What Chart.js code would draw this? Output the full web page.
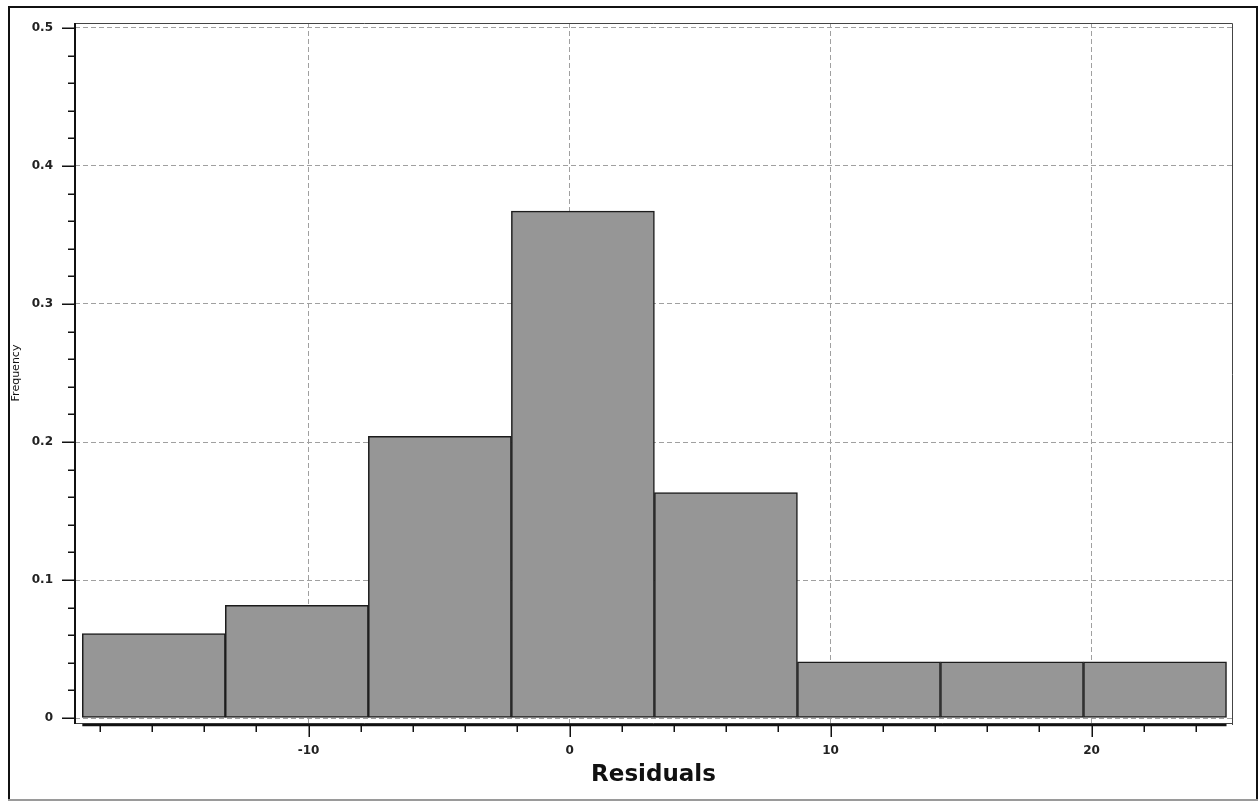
<!DOCTYPE html>
<html><head><meta charset="utf-8">
<script src="https://cdn.jsdelivr.net/npm/chart.js@4.4.0/dist/chart.umd.min.js"></script>
<style>html,body{margin:0;padding:0;background:#fff;}#wrap{width:1259px;height:801px;position:relative;}canvas{display:block;}</style>
</head><body><div id="wrap"><canvas id="c" width="1259" height="801"></canvas></div>
<script>
// ---- data ----
const binEdges = [-18.67, -13.19, -7.71, -2.23, 3.25, 8.73, 14.21, 19.69, 25.17];
const frequencies = [0.0612, 0.0816, 0.2041, 0.3673, 0.1633, 0.0408, 0.0408, 0.0408];
const xMajorTicks = [-10, 0, 10, 20];
const xMinorTicks = [-18, -16, -14, -12, -8, -6, -4, -2, 2, 4, 6, 8, 12, 14, 16, 18, 22, 24];
const yMajorTicks = [0, 0.1, 0.2, 0.3, 0.4, 0.5];
const yMinorTicks = [0.02, 0.04, 0.06, 0.08, 0.12, 0.14, 0.16, 0.18, 0.22, 0.24, 0.26, 0.28,
                     0.32, 0.34, 0.36, 0.38, 0.42, 0.44, 0.46, 0.48];
const xTitle = 'Residuals';
const yTitle = 'Frequency';

const histData = frequencies.map((f, i) => ({ x: (binEdges[i] + binEdges[i + 1]) / 2, y: f }));

const framePlugin = {
  id: 'frame',
  beforeDraw(chart) {
    const ctx = chart.ctx;
    ctx.save(); ctx.fillStyle = '#fff'; ctx.fillRect(0, 0, chart.width, chart.height); ctx.restore();
  },
  afterDraw(chart) {
    const { ctx, chartArea: a, scales: { x, y } } = chart;
    ctx.save();
    // outer border
    ctx.strokeStyle = '#111'; ctx.lineWidth = 2;
    ctx.beginPath(); ctx.moveTo(9, 800); ctx.lineTo(9, 7); ctx.lineTo(1257, 7); ctx.lineTo(1257, 800); ctx.stroke();
    ctx.strokeStyle = '#9a9a9a'; ctx.lineWidth = 2;
    ctx.beginPath(); ctx.moveTo(8, 800); ctx.lineTo(1258, 800); ctx.stroke();
    // plot frame (top/right thin)
    ctx.strokeStyle = '#444'; ctx.lineWidth = 1;
    ctx.beginPath(); ctx.moveTo(a.left, a.top + 0.5); ctx.lineTo(a.right + 0.5, a.top + 0.5); ctx.lineTo(a.right + 0.5, a.bottom + 2); ctx.stroke();
    ctx.beginPath(); ctx.moveTo(a.left, a.bottom + 0.5); ctx.lineTo(a.right, a.bottom + 0.5); ctx.stroke();
    // left axis line
    ctx.strokeStyle = '#111'; ctx.lineWidth = 2;
    ctx.beginPath(); ctx.moveTo(a.left, a.top); ctx.lineTo(a.left, a.bottom + 1); ctx.stroke();
    // bottom axis line across the bins
    const x0 = x.getPixelForValue(binEdges[0]);
    const x1 = x.getPixelForValue(binEdges[binEdges.length - 1]);
    ctx.lineWidth = 2.5;
    ctx.beginPath(); ctx.moveTo(x0, a.bottom + 2); ctx.lineTo(x1, a.bottom + 2); ctx.stroke();
    // x ticks
    ctx.lineWidth = 1.5;
    ctx.beginPath();
    xMajorTicks.forEach(v => { const p = Math.round(x.getPixelForValue(v)) + 0.25; ctx.moveTo(p, a.bottom + 2); ctx.lineTo(p, a.bottom + 14); });
    xMinorTicks.forEach(v => { const p = Math.round(x.getPixelForValue(v)) + 0.25; ctx.moveTo(p, a.bottom + 2); ctx.lineTo(p, a.bottom + 9); });
    ctx.stroke();
    // y ticks
    ctx.beginPath();
    yMajorTicks.forEach(v => { const p = Math.round(y.getPixelForValue(v)) + 0.25; ctx.moveTo(a.left - 13, p); ctx.lineTo(a.left, p); });
    yMinorTicks.forEach(v => { const p = Math.round(y.getPixelForValue(v)) + 0.25; ctx.moveTo(a.left - 7, p); ctx.lineTo(a.left, p); });
    ctx.stroke();
    ctx.restore();
  }
};

new Chart(document.getElementById('c'), {
  type: 'bar',
  data: {
    datasets: [{
      label: yTitle,
      data: histData,
      backgroundColor: '#969696',
      borderColor: '#1c1c1c',
      borderWidth: 1.5,
      borderSkipped: false,
      barPercentage: 1,
      categoryPercentage: 1
    }]
  },
  options: {
    responsive: false,
    animation: false,
    devicePixelRatio: 1,
    layout: { padding: { left: 0, top: 23, right: 27, bottom: 0 } },
    plugins: { legend: { display: false }, tooltip: { enabled: false } },
    scales: {
      x: {
        type: 'linear',
        position: 'bottom',
        min: -18.95,
        max: 25.38,
        offset: false,
        afterBuildTicks: s => { s.ticks = xMajorTicks.map(v => ({ value: v })); },
        afterFit: s => { s.height = 78; },
        grid: { offset: false, color: '#a0a0a0', lineWidth: 1, drawTicks: true, tickLength: 13, tickColor: 'rgba(0,0,0,0)' },
        border: { display: false, dash: [5, 3] },
        ticks: {
          autoSkip: false, maxRotation: 0, padding: 8, color: '#222',
          font: { family: 'DejaVu Sans', size: 12, weight: 'bold' },
          callback: v => String(v)
        },
        title: {
          display: true, text: xTitle, color: '#111',
          font: { family: 'DejaVu Sans', size: 23, weight: 'bold' },
          padding: { top: 0, bottom: 12 }
        }
      },
      y: {
        type: 'linear',
        min: -0.0036,
        max: 0.5036,
        afterBuildTicks: s => { s.ticks = yMajorTicks.map(v => ({ value: v })); },
        afterFit: s => { s.width = 75; },
        grid: { color: '#a0a0a0', lineWidth: 1, drawTicks: true, tickLength: 13, tickColor: 'rgba(0,0,0,0)' },
        border: { display: false, dash: [5, 3] },
        ticks: {
          padding: 9, color: '#222',
          font: { family: 'DejaVu Sans', size: 12, weight: 'bold' },
          callback: v => (v === 0 ? '0' : v.toFixed(1))
        },
        title: {
          display: true, text: yTitle, color: '#111',
          font: { family: 'DejaVu Sans', size: 11 },
          padding: { top: 10, bottom: 0 }
        }
      }
    }
  },
  plugins: [framePlugin]
});
</script>
</body></html>
